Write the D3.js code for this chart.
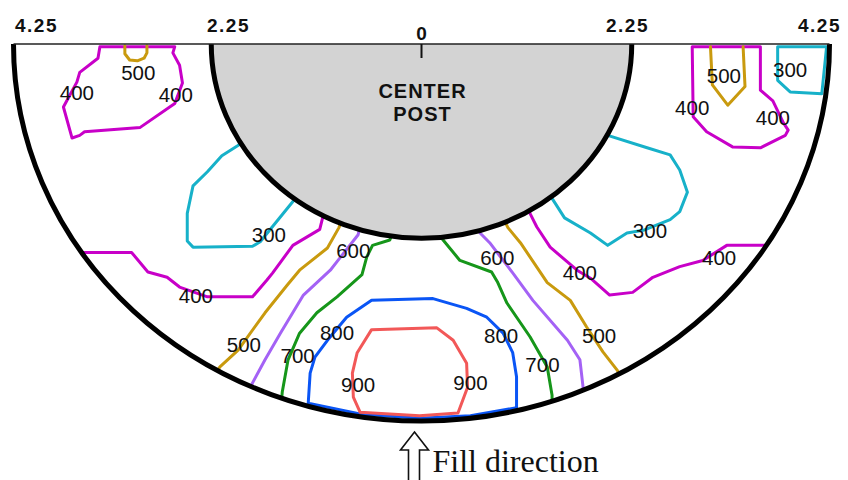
<!DOCTYPE html>
<html>
<head>
<meta charset="utf-8">
<script src="https://cdn.jsdelivr.net/npm/d3@7/dist/d3.min.js"></script>
<style>
  body { margin: 0; background: #fff; }
  svg { display: block; }
</style>
</head>
<body>
<svg id="chart" width="848" height="480"></svg>
<script>
// Radial positions in inches across the section (negative = left of the center post)
const tickValues = [-4.25, -2.25, 0, 2.25, 4.25];
const tickLabels = ["4.25", "2.25", "0", "2.25", "4.25"];
const outerRadius = 4.25;
const postRadius = 2.19;

const levels = [300, 400, 500, 600, 700, 800, 900];

// Contour lines, [radial position, depth] in inches
const contours300 = [
  [[3.71, 0.03], [3.71, 0.41], [3.84, 0.54], [4.17, 0.56], [4.22, 0.03], [3.71, 0.03]],
  [[-1.84, 1.09], [-1.92, 1.15], [-2.08, 1.26], [-2.23, 1.44], [-2.38, 1.60], [-2.44, 1.91],
   [-2.44, 2.22], [-2.38, 2.29], [-1.76, 2.28], [-1.68, 2.23], [-1.35, 1.79], [-1.30, 1.72]],
  [[1.89, 0.98], [1.94, 1.03], [2.35, 1.17], [2.59, 1.25], [2.69, 1.42], [2.77, 1.67],
   [2.69, 1.89], [2.59, 1.98], [2.31, 2.10], [2.14, 2.13], [1.94, 2.27], [1.76, 2.13],
   [1.49, 1.96], [1.36, 1.74], [1.33, 1.68]]
];
const contours400 = [
  [[-3.35, 0.03], [-3.37, 0.16], [-3.56, 0.32], [-3.59, 0.43], [-3.73, 0.71], [-3.64, 1.06],
   [-3.56, 1.03], [-3.51, 0.99], [-2.93, 0.94], [-2.57, 0.67], [-2.49, 0.44], [-2.52, 0.24],
   [-2.59, 0.10], [-2.57, 0.03], [-3.35, 0.03]],
  [[2.82, 0.03], [2.83, 0.82], [2.97, 0.99], [3.24, 1.16], [3.53, 1.17], [3.79, 1.03],
   [3.82, 0.97], [3.77, 0.89], [3.66, 0.64], [3.53, 0.52], [3.53, 0.03], [2.82, 0.03]],
  [[-3.58, 2.35], [-3.02, 2.35], [-2.85, 2.57], [-2.65, 2.63], [-2.52, 2.74], [-2.23, 2.85],
   [-1.76, 2.85], [-1.61, 2.66], [-1.55, 2.58], [-1.34, 2.27], [-1.06, 2.09], [-1.03, 1.96],
   [-1.02, 1.89]],
  [[1.12, 1.85], [1.13, 1.91], [1.20, 2.06], [1.34, 2.29], [1.62, 2.55], [1.76, 2.64],
   [1.96, 2.83], [2.20, 2.80], [2.41, 2.63], [2.69, 2.51], [2.93, 2.44], [3.18, 2.27],
   [3.53, 2.27], [3.63, 2.27]]
];
const contours500 = [
  [[-3.09, 0.02], [-3.09, 0.11], [-3.04, 0.18], [-2.96, 0.19], [-2.89, 0.16], [-2.86, 0.10],
   [-2.86, 0.02]],
  [[3.01, 0.03], [3.03, 0.46], [3.19, 0.69], [3.37, 0.48], [3.35, 0.03]],
  [[-0.84, 2.01], [-0.86, 2.07], [-0.98, 2.30], [-1.27, 2.55], [-1.40, 2.72], [-1.63, 3.03],
   [-1.91, 3.45], [-2.10, 3.64], [-2.15, 3.72]],
  [[0.85, 1.96], [0.90, 2.07], [1.03, 2.24], [1.31, 2.69], [1.55, 2.89], [1.72, 3.19],
   [1.89, 3.47], [2.04, 3.68], [2.07, 3.75]]
];
const contours600 = [
  [[-0.64, 2.05], [-0.66, 2.15], [-0.87, 2.44], [-0.95, 2.55], [-1.23, 2.83], [-1.47, 3.26],
   [-1.63, 3.56], [-1.76, 3.82], [-1.79, 3.90]],
  [[0.59, 2.07], [0.61, 2.13], [0.71, 2.24], [0.95, 2.58], [1.16, 2.89], [1.52, 3.34],
   [1.65, 3.56], [1.68, 3.84], [1.69, 3.95]]
];
const contours700 = [
  [[-0.31, 2.15], [-0.33, 2.21], [-0.51, 2.27], [-0.57, 2.40], [-0.62, 2.60], [-0.88, 2.85],
   [-1.09, 3.03], [-1.27, 3.26], [-1.39, 3.56], [-1.45, 3.92], [-1.46, 4.04]],
  [[0.19, 2.14], [0.21, 2.19], [0.40, 2.44], [0.73, 2.57], [0.79, 2.68], [0.89, 2.92],
   [1.13, 3.30], [1.31, 3.64], [1.36, 3.96], [1.36, 4.06]]
];
const contours800 = [
  [[-1.18, 4.05], [-1.16, 3.71], [-1.11, 3.53], [-0.98, 3.34], [-0.78, 3.08], [-0.52, 2.89],
   [0.12, 2.87], [0.47, 2.98], [0.68, 3.08], [0.85, 3.26], [0.95, 3.48], [0.99, 3.75],
   [0.99, 4.10], [0.51, 4.19], [-0.02, 4.22], [-0.64, 4.17], [-1.18, 4.05]]
];
const contours900 = [
  [[-0.64, 4.15], [-0.71, 3.98], [-0.72, 3.71], [-0.67, 3.48], [-0.52, 3.22], [0.16, 3.20],
   [0.33, 3.34], [0.47, 3.60], [0.48, 3.87], [0.38, 4.16], [-0.02, 4.19], [-0.64, 4.15]]
];

// Where each contour value is printed, [radial position, depth] of the label baseline centre
const labels300 = [[3.84, 0.37], [-1.59, 2.23], [2.38, 2.19]];
const labels400 = [[-3.59, 0.63], [-2.56, 0.65], [2.82, 0.80], [3.66, 0.91], [-2.35, 2.92],
                   [1.65, 2.66], [3.10, 2.49]];
const labels500 = [[-2.95, 0.41], [3.15, 0.44], [-1.85, 3.47], [1.85, 3.37]];
const labels600 = [[-0.71, 2.41], [0.79, 2.49]];
const labels700 = [[-1.29, 3.60], [1.26, 3.70]];
const labels800 = [[-0.88, 3.34], [0.83, 3.37]];
const labels900 = [[-0.66, 3.92], [0.51, 3.90]];

const contourSets = {300: contours300, 400: contours400, 500: contours500, 600: contours600,
                     700: contours700, 800: contours800, 900: contours900};
const labelSets = {300: labels300, 400: labels400, 500: labels500, 600: labels600,
                   700: labels700, 800: labels800, 900: labels900};

const levelColor = d3.scaleOrdinal()
  .domain(levels)
  .range(["#17b1c9", "#c800c8", "#c99a0e", "#a462f5", "#16961a", "#0a55f5", "#f25858"]);

const svg = d3.select("#chart");
const x = d3.scaleLinear().domain([-outerRadius, outerRadius]).range([13.5, 829.5]);
const y = d3.scaleLinear().domain([0, outerRadius]).range([44, 421]);

// Lower half of an ellipse centred on the top edge
function halfEllipse(r, closed) {
  const rx = x(r) - x(0), ry = y(r) - y(0);
  return `M${x(-r)},${y(0)} A${rx},${ry} 0 0 0 ${x(r)},${y(0)}` + (closed ? " Z" : "");
}

svg.append("defs").append("clipPath").attr("id", "section")
  .append("path").attr("d", halfEllipse(outerRadius, true));

const line = d3.line().x(d => x(d[0])).y(d => y(d[1]));

// Contour lines
const gContours = svg.append("g").attr("clip-path", "url(#section)");
levels.forEach(level => {
  gContours.selectAll(null)
    .data(contourSets[level])
    .join("path")
    .attr("d", line)
    .attr("fill", "none")
    .attr("stroke", levelColor(level))
    .attr("stroke-width", 3)
    .attr("stroke-linejoin", "round")
    .attr("stroke-linecap", "round");
});

// Center post
svg.append("path")
  .attr("d", halfEllipse(postRadius, true))
  .attr("fill", "#d3d3d3")
  .attr("stroke", "none");
svg.append("path")
  .attr("d", halfEllipse(postRadius, false))
  .attr("fill", "none")
  .attr("stroke", "#000")
  .attr("stroke-width", 5);

// Outer wall
svg.append("path")
  .attr("d", halfEllipse(outerRadius, false))
  .attr("fill", "none")
  .attr("stroke", "#000")
  .attr("stroke-width", 5);

// Top axis line, centre tick and radial labels
svg.append("line")
  .attr("x1", x(-outerRadius)).attr("x2", x(outerRadius))
  .attr("y1", y(0)).attr("y2", y(0))
  .attr("stroke", "#222").attr("stroke-width", 1.5);
svg.append("line")
  .attr("x1", x(0)).attr("x2", x(0))
  .attr("y1", y(0)).attr("y2", y(0) + 14)
  .attr("stroke", "#111").attr("stroke-width", 2);

svg.selectAll("text.tick")
  .data(tickValues)
  .join("text")
  .attr("class", "tick")
  .attr("x", d => x(d) + (d < 0 ? 23 : d > 0 ? -10 : 0))
  .attr("y", d => d === 0 ? y(0) - 4 : y(0) - 12)
  .attr("text-anchor", "middle")
  .attr("font-family", "'Liberation Sans', Arial, sans-serif")
  .attr("font-weight", "bold")
  .attr("font-size", 19)
  .attr("letter-spacing", d => d === 0 ? 0 : 1.5)
  .attr("fill", "#111")
  .text((d, i) => tickLabels[i]);

// Contour value labels
const gLabels = svg.append("g")
  .attr("font-family", "'Liberation Sans', Arial, sans-serif")
  .attr("font-size", 20.5)
  .attr("fill", "#111")
  .attr("text-anchor", "middle");
levels.forEach(level => {
  gLabels.selectAll(null)
    .data(labelSets[level])
    .join("text")
    .attr("x", d => x(d[0]))
    .attr("y", d => y(d[1]))
    .text(level);
});

// Post caption
const caption = svg.append("text")
  .attr("text-anchor", "middle")
  .attr("font-family", "'Liberation Sans', Arial, sans-serif")
  .attr("font-weight", "bold")
  .attr("font-size", 20)
  .attr("letter-spacing", 1)
  .attr("fill", "#111");
caption.append("tspan").attr("x", x(0) + 1).attr("y", 98).text("CENTER");
caption.append("tspan").attr("x", x(0) + 1).attr("y", 121).text("POST");

// Fill direction arrow
const ax = x(0) - 7;
svg.append("path")
  .attr("d", `M${ax},432 L${ax + 14},450 L${ax + 5},450 L${ax + 5},482 L${ax - 6},482 L${ax - 6},450 L${ax - 14},450 Z`)
  .attr("fill", "#fff")
  .attr("stroke", "#111")
  .attr("stroke-width", 1.6)
  .attr("stroke-linejoin", "miter");
svg.append("text")
  .attr("x", ax + 18)
  .attr("y", 472)
  .attr("font-family", "'Liberation Serif', 'Times New Roman', serif")
  .attr("font-size", 32)
  .attr("fill", "#111")
  .text("Fill direction");
</script>
</body>
</html>
